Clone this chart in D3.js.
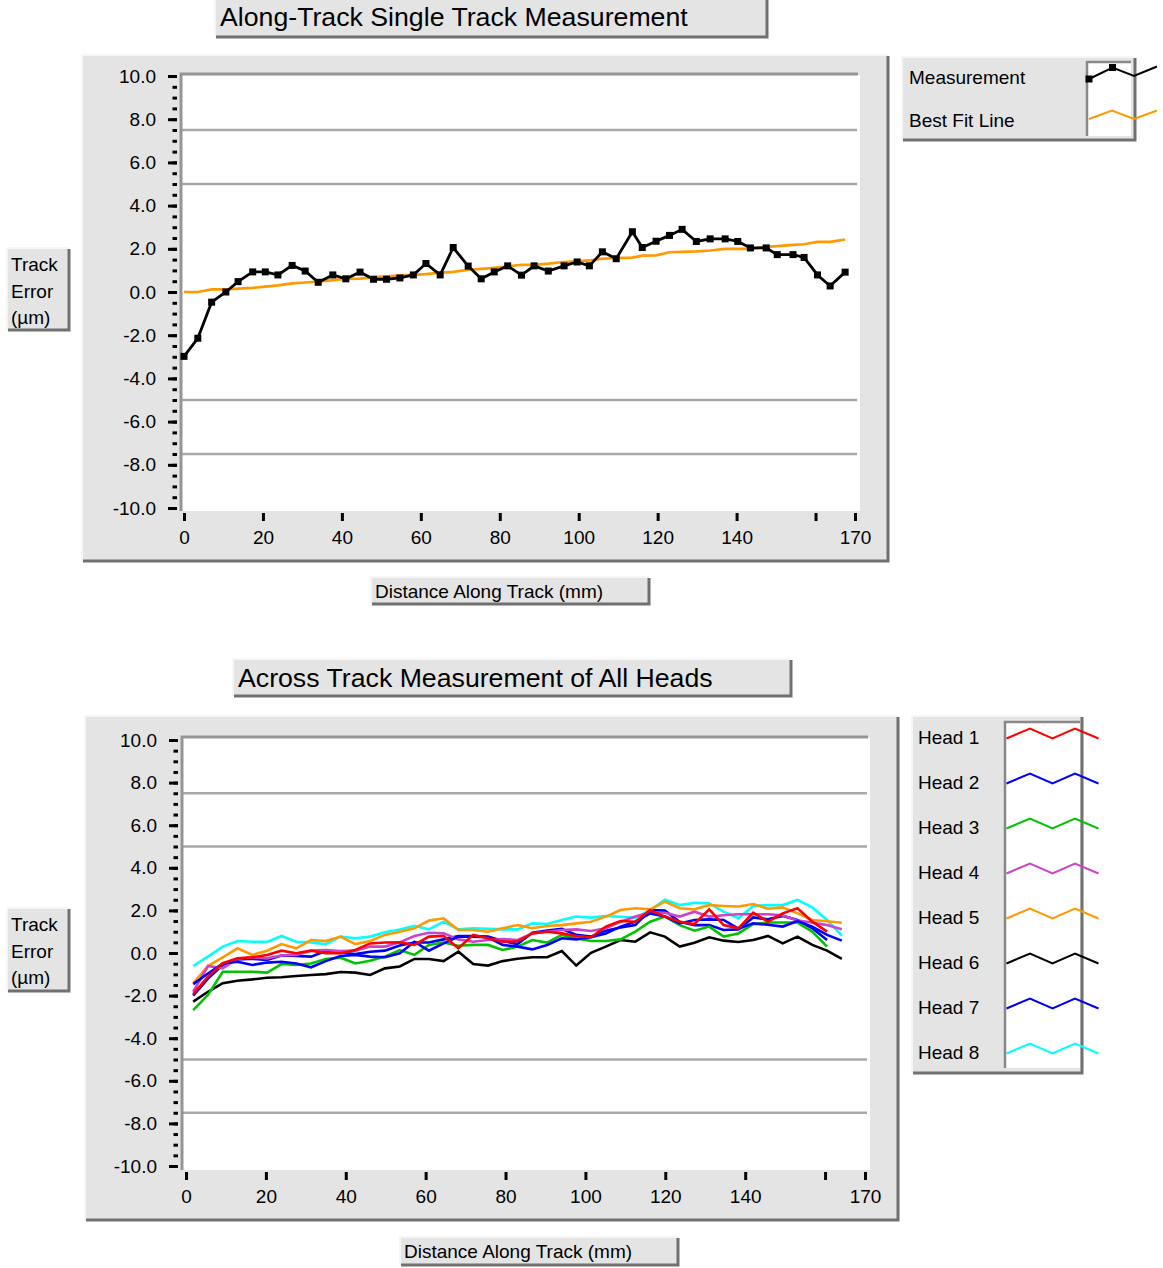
<!DOCTYPE html>
<html><head><meta charset="utf-8">
<script src="https://cdn.jsdelivr.net/npm/d3@7"></script>
<style>body{margin:0;background:#fff}svg{display:block;font-family:"Liberation Sans",Arial,sans-serif}</style>
</head><body>
<script>
// ---------- DATA ----------
const distTop = [0,3.5,7.0,10.6,13.7,17.4,20.6,23.8,27.4,30.7,34.0,37.7,41.0,44.6,48.0,51.3,54.7,58.1,61.3,64.9,68.2,72.0,75.3,78.6,82.0,85.5,88.7,92.3,96.3,99.6,102.7,106.0,109.5,113.6,116.1,119.6,123.0,126.2,129.8,133.3,137.1,140.3,143.5,147.5,150.3,154.3,157.1,160.5,163.7,167.5];
const measurement = [-2.98,-2.14,-0.47,0.0,0.48,0.93,0.93,0.79,1.23,0.97,0.45,0.79,0.61,0.92,0.59,0.59,0.65,0.79,1.32,0.79,2.06,1.20,0.61,0.93,1.21,0.78,1.21,0.97,1.21,1.39,1.21,1.86,1.54,2.79,2.06,2.35,2.62,2.90,2.34,2.46,2.46,2.34,2.04,2.04,1.73,1.73,1.60,0.79,0.28,0.92];
const bestFit = [0.0,0.0,0.12,0.12,0.16,0.19,0.25,0.31,0.40,0.44,0.48,0.55,0.61,0.62,0.69,0.72,0.76,0.79,0.83,0.90,0.93,1.03,1.07,1.12,1.18,1.26,1.26,1.31,1.39,1.42,1.46,1.54,1.57,1.59,1.68,1.70,1.84,1.86,1.88,1.92,2.0,2.0,2.0,2.09,2.12,2.18,2.21,2.32,2.32,2.43];

const distBottom = [1.8,5.5,9.2,12.9,16.6,20.3,23.9,27.6,31.3,35.0,38.7,42.4,46.1,49.8,53.5,57.2,60.8,64.5,68.2,71.9,75.6,79.3,83.0,86.7,90.4,94.1,97.7,101.4,105.1,108.8,112.5,116.2,119.9,123.6,127.3,131.0,134.6,138.3,142.0,145.7,149.4,153.1,156.8,160.5,164.2];
const head1 = [-1.93,-1.11,-0.48,-0.25,-0.20,-0.09,0.11,-0.01,0.11,-0.01,-0.01,0.14,0.45,0.49,0.50,0.38,0.77,0.80,0.22,0.85,0.69,0.53,0.55,0.92,1.00,0.92,0.80,0.74,1.24,1.50,1.47,2.02,1.71,1.47,1.36,2.05,1.31,1.16,1.89,1.47,1.86,2.10,1.47,1.00,null];
const head2 = [-1.46,-0.96,-0.49,-0.41,-0.56,-0.45,-0.41,-0.49,-0.67,-0.38,-0.14,-0.09,-0.17,-0.20,-0.01,0.53,0.11,0.45,0.77,0.77,0.74,0.38,0.30,0.17,0.38,0.69,0.64,0.74,0.92,1.24,1.47,1.86,1.71,1.39,1.55,1.58,1.55,1.14,1.39,1.33,1.24,1.50,1.24,0.85,0.58];
const head3 = [-2.68,-1.97,-0.88,-0.88,-0.88,-0.92,-0.52,-0.56,-0.49,-0.28,-0.22,-0.49,-0.36,-0.17,0.14,-0.09,0.38,0.49,0.34,0.38,0.38,0.14,0.30,0.61,0.49,0.85,0.69,0.56,0.56,0.64,1.00,1.47,1.71,1.31,1.05,1.24,0.77,0.92,1.35,1.43,1.43,1.43,1.00,0.30,null];
const head4 = [-1.82,-0.61,-0.72,-0.27,-0.20,-0.25,-0.12,-0.09,0.11,0.14,0.09,0.11,0.30,0.30,0.50,0.80,0.95,0.92,0.64,0.53,0.61,0.66,0.61,0.92,1.00,1.08,1.11,1.03,1.16,1.47,1.71,1.89,1.89,1.71,1.94,1.71,1.77,1.82,1.82,1.82,1.77,1.52,1.43,1.31,1.11];
const head5 = [-1.42,-0.61,-0.20,0.22,-0.09,0.11,0.42,0.22,0.61,0.56,0.77,0.42,0.56,0.85,1.00,1.16,1.52,1.63,1.08,1.08,1.00,1.16,1.31,1.16,1.27,1.31,1.39,1.47,1.71,2.02,2.10,2.05,2.41,2.10,2.05,2.25,2.21,2.18,2.30,2.08,2.14,1.86,1.55,1.49,1.42];
const head6 = [-2.28,-1.82,-1.42,-1.30,-1.24,-1.16,-1.14,-1.08,-1.03,-0.99,-0.89,-0.92,-1.03,-0.72,-0.63,-0.28,-0.28,-0.38,0.06,-0.52,-0.59,-0.38,-0.27,-0.20,-0.20,0.09,-0.59,0.01,0.30,0.61,0.53,0.97,0.77,0.30,0.48,0.74,0.58,0.52,0.61,0.80,0.45,0.77,0.38,0.11,-0.28];
const head7 = [-2.00,-1.20,-0.56,-0.30,-0.27,-0.33,-0.12,-0.14,-0.17,0.09,0.02,-0.05,0.06,0.11,0.35,0.49,0.49,0.64,0.80,0.80,0.77,0.56,0.42,0.95,1.05,1.14,0.85,0.77,1.05,1.20,1.31,2.02,1.99,1.47,1.31,1.31,1.08,1.11,1.67,1.58,1.74,1.55,1.16,0.61,null];
const head8 = [-0.61,-0.17,0.30,0.56,0.53,0.52,0.80,0.53,0.50,0.41,0.77,0.69,0.77,0.97,1.10,1.28,1.11,1.47,1.11,1.16,1.14,1.11,1.11,1.39,1.36,1.55,1.71,1.66,1.74,1.70,1.66,2.00,2.50,2.25,2.36,2.33,1.94,1.63,2.21,2.25,2.25,2.49,2.14,1.55,0.82];

const headNames = ["Head 1","Head 2","Head 3","Head 4","Head 5","Head 6","Head 7","Head 8"];
const headColors = ["#ff0000","#0000ff","#00c400","#cc44cc","#ff9900","#000000","#0000ee","#00ffff"];
const heads = [head1,head2,head3,head4,head5,head6,head7,head8];

const yMajorTicks = [-10,-8,-6,-4,-2,0,2,4,6,8,10];
const xTicks = [0,20,40,60,80,100,120,140,160,170];
const refLines = [7.5,5,-5,-7.5];

// ---------- DRAW ----------
const W = 1163, H = 1268;
const svg = d3.select("body").append("svg").attr("width", W).attr("height", H);
const FONT = 19;

function bevelBox(x, y, w, h) {
  const g = svg.append("g");
  g.append("rect").attr("x", x).attr("y", y).attr("width", w).attr("height", h).attr("fill", "#e4e4e4");
  g.append("path").attr("d", `M${x},${y+h} V${y} H${x+w}`).attr("fill","none").attr("stroke","#f6f6f6").attr("stroke-width",2);
  g.append("path").attr("d", `M${x+1},${y+h} H${x+w} V${y+1}`).attr("fill","none").attr("stroke","#707070").attr("stroke-width",3);
  return g;
}
function text(x, y, s, size, anchor) {
  return svg.append("text").attr("x", x).attr("y", y).attr("font-size", size || FONT)
    .attr("text-anchor", anchor || "start").attr("fill", "#000").text(s);
}

function chart(cfg) {
  bevelBox(cfg.panel[0], cfg.panel[1], cfg.panel[2], cfg.panel[3]);
  bevelBox(cfg.title[0], cfg.title[1], cfg.title[2], cfg.title[3]);
  text(cfg.title[0] + 5, cfg.title[1] + cfg.title[3] / 2 + 9, cfg.titleText, 26.7);
  const [px0, py0, px1, py1] = cfg.plot;
  svg.append("rect").attr("x", px0).attr("y", py0).attr("width", px1 - px0).attr("height", py1 - py0).attr("fill", "#fff");
  const x = d3.scaleLinear().domain([0, 170]).range(cfg.xRange);
  const y = d3.scaleLinear().domain([-10, 10]).range(cfg.yRange);
  svg.append("g").selectAll("line").data(refLines).join("line")
    .attr("x1", px0).attr("x2", px1 - 3).attr("y1", d => y(d)).attr("y2", d => y(d))
    .attr("stroke", "#a8a8a8").attr("stroke-width", 2.5);
  svg.append("path").attr("d", `M${px0 - 1},${py1} V${py0 - 1} H${px1 - 2}`)
    .attr("fill", "none").attr("stroke", "#959595").attr("stroke-width", 3);
  const tickRight = px0 - 5;
  const yMinor = svg.append("g").attr("transform", `translate(${tickRight},0)`)
    .call(d3.axisLeft(y).tickValues(d3.range(-10, 10.001, 0.5)).tickSize(4.5).tickFormat(""));
  yMinor.select(".domain").remove();
  yMinor.selectAll("line").attr("stroke", "#000").attr("stroke-width", 3);
  const yMajor = svg.append("g").attr("transform", `translate(${tickRight},0)`)
    .call(d3.axisLeft(y).tickValues(yMajorTicks).tickSize(9).tickPadding(12).tickFormat(d => d.toFixed(1)));
  yMajor.select(".domain").remove();
  yMajor.selectAll("line").attr("stroke", "#000").attr("stroke-width", 3);
  yMajor.selectAll("text").attr("font-size", FONT).attr("font-family", "Liberation Sans, Arial, sans-serif").attr("fill", "#000");
  const xAx = svg.append("g").attr("transform", `translate(0,${py1 + 2})`)
    .call(d3.axisBottom(x).tickValues(xTicks).tickSize(8).tickPadding(10).tickFormat(d => d === 160 ? "" : d));
  xAx.select(".domain").remove();
  xAx.selectAll("line").attr("stroke", "#000").attr("stroke-width", 3);
  xAx.selectAll("text").attr("font-size", FONT).attr("font-family", "Liberation Sans, Arial, sans-serif").attr("fill", "#000");
  const yl = cfg.yLabel;
  bevelBox(yl[0], yl[1], yl[2], yl[3]);
  ["Track", "Error", "(\u00b5m)"].forEach((s, i) => text(yl[0] + 4, yl[1] + 23 + i * 26.5, s));
  const xl = cfg.xLabel;
  bevelBox(xl[0], xl[1], xl[2], xl[3]);
  text(xl[0] + 4, xl[1] + xl[3] / 2 + 7, "Distance Along Track (mm)");
  return { x, y };
}

// ---- Top chart ----
const topChart = chart({
  panel: [82, 55, 806, 506],
  title: [215, -4, 552, 41],
  titleText: "Along-Track Single Track Measurement",
  plot: [182, 75, 860, 511],
  xRange: [184, 855],
  yRange: [508, 76],
  yLabel: [7, 248, 62, 82],
  xLabel: [371, 577, 278, 27]
});
const lineTop = d3.line().x(d => topChart.x(d[0])).y(d => topChart.y(d[1]));
svg.append("path").datum(distTop.map((d, i) => [d, bestFit[i]]))
  .attr("d", lineTop).attr("fill", "none").attr("stroke", "#ff9900").attr("stroke-width", 2.7);
svg.append("path").datum(distTop.map((d, i) => [d, measurement[i]]))
  .attr("d", lineTop).attr("fill", "none").attr("stroke", "#000").attr("stroke-width", 2.8);
svg.append("g").selectAll("rect").data(distTop.map((d, i) => [d, measurement[i]])).join("rect")
  .attr("x", d => topChart.x(d[0]) - 3.5).attr("y", d => topChart.y(d[1]) - 3.5).attr("width", 7).attr("height", 7).attr("fill", "#000");

// top legend
bevelBox(902, 57, 233, 83);
svg.append("rect").attr("x", 1087).attr("y", 62).attr("width", 44).attr("height", 74).attr("fill", "#fff");
svg.append("path").attr("d", "M1087,136 V62 H1131").attr("fill", "none").attr("stroke", "#888").attr("stroke-width", 2.5);
text(909, 84, "Measurement");
text(909, 127, "Best Fit Line");
const legM = [[1089, 79], [1112.5, 67.5], [1134, 76], [1157, 66.5]];
svg.append("polyline").attr("points", legM.map(p => p.join(",")).join(" ")).attr("fill", "none").attr("stroke", "#000").attr("stroke-width", 2);
legM.slice(0, 2).forEach(p => svg.append("rect").attr("x", p[0] - 3.5).attr("y", p[1] - 3.5).attr("width", 7).attr("height", 7).attr("fill", "#000"));
const legF = [[1089, 119], [1112, 110.5], [1134, 119], [1157, 110.5]];
svg.append("polyline").attr("points", legF.map(p => p.join(",")).join(" ")).attr("fill", "none").attr("stroke", "#ff9900").attr("stroke-width", 2);

// ---- Bottom chart ----
const botChart = chart({
  panel: [85, 716, 813, 504],
  title: [233, 659, 558, 37],
  titleText: "Across Track Measurement of All Heads",
  plot: [183, 738, 870, 1170],
  xRange: [186, 865],
  yRange: [1166, 740],
  yLabel: [7, 908, 62, 83],
  xLabel: [400, 1237, 278, 28]
});
const lineBot = d3.line().defined(d => d[1] !== null).x(d => botChart.x(d[0])).y(d => botChart.y(d[1]));
for (let h = heads.length - 1; h >= 0; h--) {
  svg.append("path").datum(distBottom.map((d, i) => [d, heads[h][i]]))
    .attr("d", lineBot).attr("fill", "none").attr("stroke", headColors[h]).attr("stroke-width", 2.6);
}

// bottom legend
bevelBox(912, 716, 170, 357);
svg.append("rect").attr("x", 1005).attr("y", 722).attr("width", 75).attr("height", 346).attr("fill", "#fff");
svg.append("path").attr("d", "M1005,1068 V722 H1080").attr("fill", "none").attr("stroke", "#888").attr("stroke-width", 2.5);
headNames.forEach((n, i) => {
  const c = 737 + i * 45;
  text(918, c + 7, n);
  const pts = [[1006.5, c + 1.5], [1030, c - 8.5], [1052.5, c + 1.5], [1075, c - 8.5], [1098.5, c + 1.5]];
  svg.append("polyline").attr("points", pts.map(p => p.join(",")).join(" "))
    .attr("fill", "none").attr("stroke", headColors[i]).attr("stroke-width", 2);
});
</script>
</body></html>
